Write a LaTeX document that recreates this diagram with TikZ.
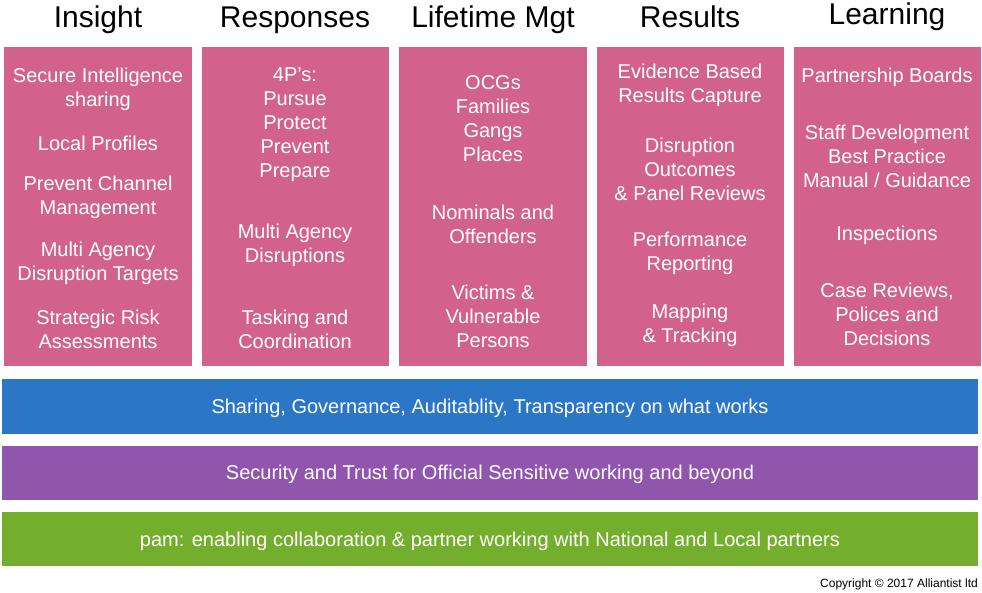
\documentclass[tikz,border=0pt]{standalone}
\usepackage{fontspec}
\setmainfont{Liberation Sans}
\definecolor{pink}{HTML}{D2628B}
\definecolor{bblue}{HTML}{2B77C6}
\definecolor{ppurple}{HTML}{9055AD}
\definecolor{ggreen}{HTML}{73AF2D}
\begin{document}
\begin{tikzpicture}[x=1pt,y=-1pt,
 col/.style={fill=pink,draw=none},
 hdr/.style={font=\fontsize{30}{32}\selectfont,anchor=base,inner sep=0},
 txt/.style={font=\fontsize{20}{24}\selectfont,text=white,align=center,anchor=center,inner sep=0},
 bar/.style={draw=none}]
\useasboundingbox (0,0) rectangle (982,592);
\foreach \a/\b/\n in {4/192/c1,202/389/c2,399/587/c3,597/784/c4,794/981/c5}
  \fill[col] (\a,47) rectangle (\b,366);
\node[hdr] (h1) at (98,27) {Insight};
\node[hdr] (h2) at (295,27) {Responses};
\node[hdr] (h3) at (493,27) {Lifetime Mgt};
\node[hdr] (h4) at (690,27) {Results};
\node[hdr] (h5) at (887,24) {Learning};
\begin{scope}[yshift=-2pt]
\node[txt] (a1) at (98,87) {Secure Intelligence\\sharing};
\node[txt] (a2) at (98,141) {Local Profiles};
\node[txt] (a3) at (98,195) {Prevent Channel\\Management};
\node[txt] (a4) at (98,261) {Multi Agency\\Disruption Targets};
\node[txt] (a5) at (98,327) {Strategic Risk\\Assessments};
\node[txt] (b1) at (295,123) {4P\symbol{39}s:\\Pursue\\Protect\\Prevent\\Prepare};
\node[txt] (b2) at (295,243) {Multi Agency\\Disruptions};
\node[txt] (b3) at (295,327) {Tasking and\\Coordination};
\node[txt] (d1) at (493,117) {OCGs\\Families\\Gangs\\Places};
\node[txt] (d2) at (493,222) {Nominals and\\Offenders};
\node[txt] (d3) at (493,314) {Victims \&\\Vulnerable\\Persons};
\node[txt] (e1) at (690,83) {Evidence Based\\Results Capture};
\node[txt] (e2) at (690,167) {Disruption\\Outcomes\\\& Panel Reviews};
\node[txt] (e3) at (690,251) {Performance\\Reporting};
\node[txt] (e4) at (690,323) {Mapping\\\& Tracking};
\node[txt] (f1) at (887,75) {Partnership Boards};
\node[txt] (f2) at (887,154) {Staff Development\\Best Practice\\Manual / Guidance};
\node[txt] (f3) at (887,233) {Inspections};
\node[txt] (f4) at (887,312) {Case Reviews,\\Polices and\\Decisions};
\end{scope}
\fill[bblue] (2,379) rectangle (978,434);
\fill[ppurple] (2,446) rectangle (978,500);
\fill[ggreen] (2,512) rectangle (978,566);
\begin{scope}[yshift=-2pt]
\node[txt] (g1) at (490,406) {Sharing, Governance, Auditablity, Transparency on what works};
\node[txt] (g2) at (490,472) {Security and Trust for Official Sensitive working and beyond};
\node[txt] (g3) at (490,539) {pam: enabling collaboration \& partner working with National and Local partners};
\end{scope}
\node[font=\fontsize{12}{13}\selectfont,anchor=east,inner sep=0] (cp) at (978,584) {Copyright © 2017 Alliantist ltd};
\end{tikzpicture}
\end{document}
